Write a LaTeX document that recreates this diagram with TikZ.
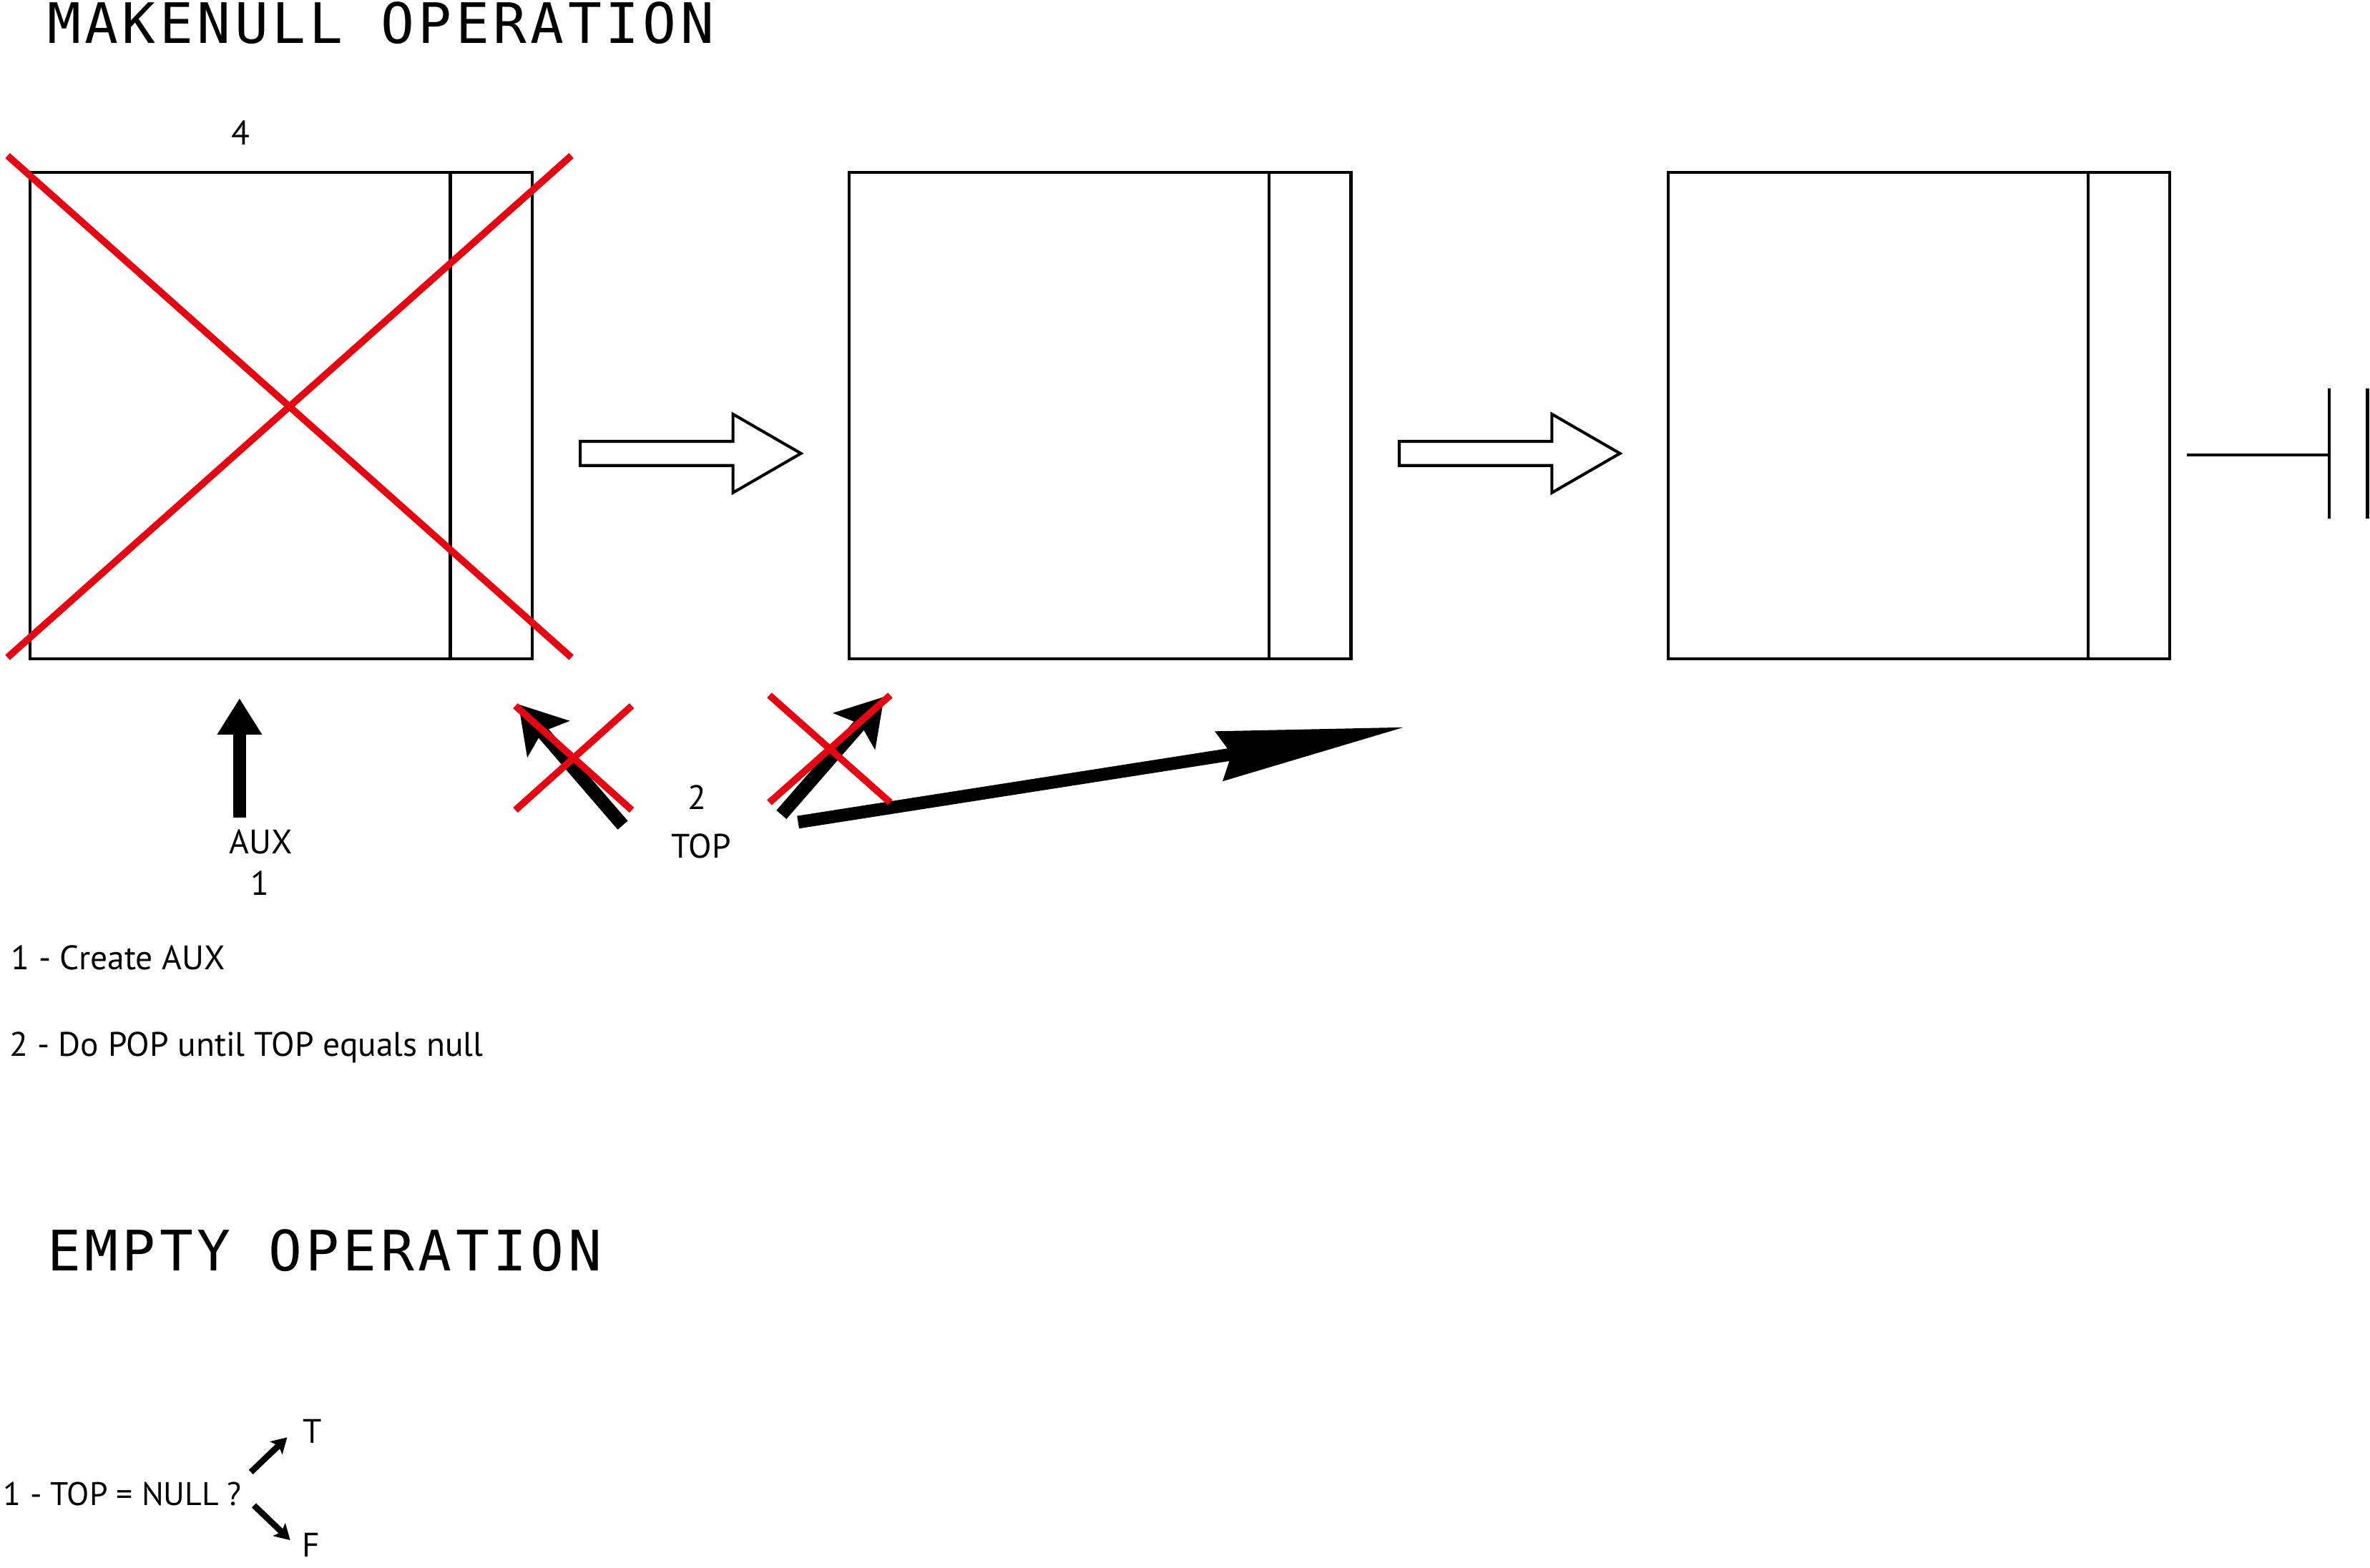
\documentclass[tikz,border=0pt]{standalone}
\usepackage{fontspec}
\setmainfont{PT Sans}
\newfontfamily\headfont[LetterSpace=7]{DejaVu Sans Mono}
\usepackage{xcolor}
\usetikzlibrary{positioning, arrows.meta, calc}
\definecolor{crossred}{RGB}{227,6,19}

\begin{document}
\begin{tikzpicture}[x=0.02cm, y=-0.02cm, font=\fontsize{12.8}{15}\selectfont, inner sep=0pt]

% --- Styles ---
\tikzset{
    cell/.style={rectangle, draw, line width=1.1pt, minimum width=6.64cm, minimum height=6.44cm},
    heading/.style={anchor=base west, font=\headfont\fontsize{21}{24}\selectfont},
    crossline/.style={crossred, line width=2.6pt},
    fatarrow/.style={line width=5pt, -{Stealth[length=0.6cm, width=0.72cm, inset=0.12cm]}},
    hollowarrow/.pic={
        \draw[line width=1.1pt, miter limit=10] (-73,-8) -- (28,-8) -- (28,-26) -- (73,0) -- (28,26) -- (28,8) -- (-73,8) -- cycle;
    },
}

\useasboundingbox (0,0) rectangle (1568,1037);

% --- Titles ---
\node[heading] (title1) at (31,28.7) {MAKENULL OPERATION};
\node[heading] (title2) at (31,841) {EMPTY OPERATION};

% --- Row of cells ---
\node[cell] (b1) at (186,275) {};
\node[cell, right=4.16cm of b1] (b2) {};
\node[cell, right=4.16cm of b2] (b3) {};
\foreach \b in {b1, b2, b3}
    \draw[line width=1.1pt] ([xshift=-1.1cm]\b.north east) -- ([xshift=-1.1cm]\b.south east);

\node (four) at (159,88) {4};

% --- Hollow arrows between cells ---
\pic at ($(b1.east)!0.5!(b2.west)+(0,25)$) {hollowarrow};
\pic at ($(b2.east)!0.5!(b3.west)+(0,25)$) {hollowarrow};

% --- Null end ---
\coordinate (nullstart) at (1447,301);
\coordinate (nullend) at (1541,301);
\draw[line width=1.2pt] (nullstart) -- (nullend);
\draw[line width=1.3pt] (1541,257) -- (1541,343);
\draw[line width=1.3pt] (1566.5,257) -- (1566.5,343);

% --- AUX pointer ---
\coordinate (auxtail) at (158.5,541);
\coordinate (auxtip) at (158.5,462);
\draw[line width=5pt, -{Triangle[length=0.48cm, width=0.56cm]}] (auxtail) -- (auxtip);
\node (auxlbl) at (172.5,557) {AUX};
\node (auxnum) at (172,584.5) {1};

% --- TOP pointers ---
\coordinate (topold) at (412,546);
\coordinate (topoldtip) at (343,466);
\coordinate (topmid) at (517,539);
\coordinate (topmidtip) at (585,461);
\coordinate (toptail) at (528,544);
\coordinate (toptip) at (930,481);
\draw[fatarrow] (topold) -- (topoldtip);
\draw[fatarrow] (topmid) -- (topmidtip);
\draw[line width=4.8pt, -{Stealth[length=2.48cm, width=0.64cm, inset=0.15cm]}] (toptail) -- (toptip);
\node (two) at (461,527.5) {2};
\node (toplbl) at (464,560) {TOP};

% --- Red crosses ---
\draw[crossline] (5,103) -- (378,435);
\draw[crossline] (5,435) -- (378,103);
\draw[crossline] (341,467) -- (418,536);
\draw[crossline] (341,536) -- (418,467);
\draw[crossline] (509,460) -- (589,531);
\draw[crossline] (509,531) -- (589,460);

% --- Steps ---
\node[anchor=base west] (step1) at (7,641.7) {1 - Create AUX};
\node[anchor=base west] (step2) at (6,698.7) {2 - Do POP until TOP equals null};

% --- Empty test ---
\node[anchor=base west, font=\fontsize{12.3}{15}\selectfont] (test) at (2,996) {1 - TOP = NULL ?};
\node (tval) at (206.7,947) {T};
\node (fval) at (206,1022) {F};
\coordinate (ttail) at (166,974);
\coordinate (ftail) at (168,996);
\draw[line width=2.3pt, -{Stealth[length=0.2cm, width=0.23cm, inset=0.04cm]}] (ttail) -- (190,951);
\draw[line width=2.3pt, -{Stealth[length=0.2cm, width=0.23cm, inset=0.04cm]}] (ftail) -- (192,1019);

\end{tikzpicture}
\end{document}
